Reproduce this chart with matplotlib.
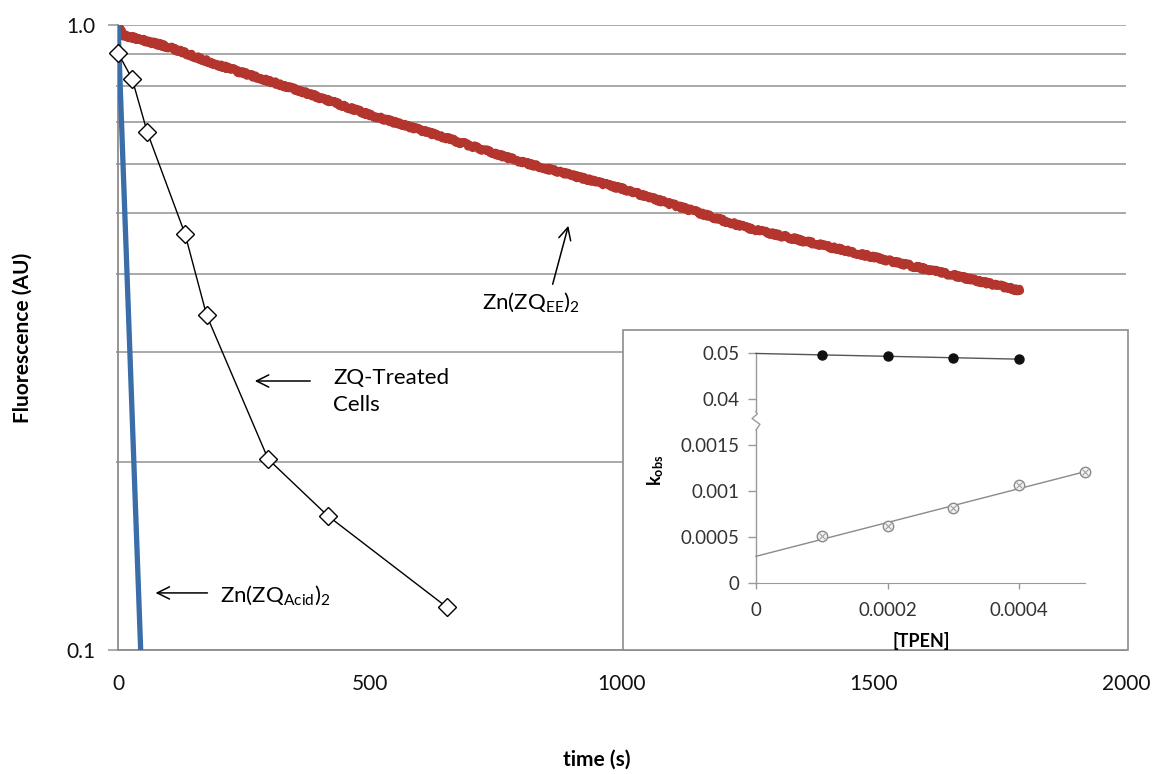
"""
Fluorescence decay of zinc complexes, log scale, with k_obs vs [TPEN] inset
"""
import numpy as np
import matplotlib
matplotlib.use('Agg')
import matplotlib.pyplot as plt
from matplotlib.patches import Rectangle
from matplotlib.ticker import FixedLocator, NullFormatter

plt.rcParams['font.family'] = ['Lato', 'DejaVu Sans']
plt.rcParams['mathtext.fontset'] = 'custom'
plt.rcParams['mathtext.rm'] = 'Lato'
plt.rcParams['mathtext.it'] = 'Lato:italic'
plt.rcParams['mathtext.bf'] = 'Lato:bold'

# --- main panel data ---
ee_time = [0, 8, 100, 200, 350, 500, 650, 800, 1000, 1250, 1550, 1790]
ee_fluor = [1.0, 0.965, 0.922, 0.862, 0.790, 0.718, 0.660, 0.604, 0.547, 0.473, 0.416, 0.376]

acid_time = [0, 12, 24, 36, 46]
acid_fluor = [1.0, 0.54, 0.293, 0.158, 0.095]

cells_time = [0, 28, 58, 133, 176, 298, 416, 653]
cells_fluor = [0.902, 0.820, 0.674, 0.463, 0.343, 0.202, 0.164, 0.117]

x_ticks = [0, 500, 1000, 1500, 2000]

# --- inset data ---
tpen_hi = [0.0001, 0.0002, 0.0003, 0.0004]
kobs_hi = [0.0495, 0.0494, 0.0490, 0.0486]
tpen_lo = [0.0001, 0.0002, 0.0003, 0.0004, 0.0005]
kobs_lo = [0.00051, 0.00062, 0.00081, 0.00106, 0.00121]

kobs_ticks = [0, 0.0005, 0.001, 0.0015, 0.04, 0.05]
kobs_labels = ['0', '0.0005', '0.001', '0.0015', '0.04', '0.05']
tpen_ticks = [0, 0.0002, 0.0004]
tpen_labels = ['0', '0.0002', '0.0004']

# broken k_obs axis: value breakpoints -> evenly spaced positions
brk_vals = np.array([0, 0.0015, 0.04, 0.05])
brk_pos = np.array([0, 3, 4, 5])


def _piecewise(v, xs, ys):
    v = np.asarray(v, dtype=float)
    out = np.interp(v, xs, ys)
    lo = ys[0] + (v - xs[0]) * (ys[1] - ys[0]) / (xs[1] - xs[0])
    hi = ys[-1] + (v - xs[-1]) * (ys[-1] - ys[-2]) / (xs[-1] - xs[-2])
    return np.where(v < xs[0], lo, np.where(v > xs[-1], hi, out))


def kobs_fwd(v):
    return _piecewise(v, brk_vals, brk_pos)


def kobs_inv(p):
    return _piecewise(p, brk_pos, brk_vals)


W, H = 1152, 774
fig = plt.figure(figsize=(W / 100, H / 100), dpi=100)

ax = fig.add_axes([118 / W, 1 - 650 / H, 1008 / W, 625 / H])
ax.set_yscale('log')
ax.set_ylim(0.1, 1.0)
ax.set_xlim(0, 2000)

grid_c = '#a3a3a3'
ax.yaxis.set_major_locator(FixedLocator([0.1, 1.0]))
ax.yaxis.set_minor_locator(FixedLocator([0.2, 0.3, 0.4, 0.5, 0.6, 0.7, 0.8, 0.9]))
ax.yaxis.set_minor_formatter(NullFormatter())
ax.set_yticklabels(['0.1', '1.0'])
ax.set_xticks(x_ticks)
ax.set_xticklabels([str(t) for t in x_ticks])
ax.grid(True, which='both', axis='y', color=grid_c, lw=1.3)
ax.set_axisbelow(True)
ax.tick_params(axis='y', which='major', length=7, width=1.3, color=grid_c,
               pad=9, labelsize=15, labelcolor='#111111')
ax.tick_params(axis='y', which='minor', length=1.5, width=1.3, color=grid_c)
ax.tick_params(axis='x', length=0, pad=17, labelsize=15, labelcolor='#111111')
for side in ('top', 'right'):
    ax.spines[side].set_visible(False)
for side in ('left', 'bottom'):
    ax.spines[side].set_color('#8c8c8c')
    ax.spines[side].set_linewidth(1.3)

# Zn(ZQ_EE)2 trace, slightly roughened like a raw fluorimeter record
ee_line, = ax.plot(ee_time, ee_fluor, color='#b4342e', lw=5.8, solid_capstyle='round', zorder=3)
ee_line.set_sketch_params(scale=1.6, length=3.0, randomness=3.0)

ax.plot(acid_time, acid_fluor, color='#3b6ea8', lw=3.8, zorder=3)

ax.plot(cells_time, cells_fluor, color='black', lw=1.0, marker='D', markersize=9.5,
        markerfacecolor='white', markeredgecolor='black', markeredgewidth=1.0, zorder=4,
        clip_on=False)

arrow = dict(arrowstyle='->', color='black', lw=1.1, mutation_scale=22)
ax.annotate('', xy=(895, 0.482), xytext=(861, 0.381), arrowprops=arrow)
ax.text(722, 0.360, r'Zn(ZQ$_{\mathrm{EE}}$)$_2$', fontsize=16, ha='left', va='center')

ax.annotate('', xy=(266, 0.2694), xytext=(387, 0.2694), arrowprops=arrow)
ax.text(427, 0.2593, 'ZQ-Treated\nCells', fontsize=16, ha='left', va='center', linespacing=1.45)

ax.annotate('', xy=(69, 0.1234), xytext=(183, 0.1234), arrowprops=arrow)
ax.text(202, 0.1225, r'Zn(ZQ$_{\mathrm{Acid}}$)$_2$', fontsize=16, ha='left', va='center')

fig.text(23 / W, 1 - 338 / H, 'Fluorescence (AU)', rotation=90, ha='center', va='center',
         fontsize=15, fontweight='bold')
fig.text(597 / W, 1 - 760 / H, 'time (s)', ha='center', va='center',
         fontsize=15, fontweight='bold')

# inset frame
fig.patches.append(Rectangle((623 / W, 1 - 650 / H), 505 / W, 320 / H,
                             transform=fig.transFigure, facecolor='white',
                             edgecolor='#8c8c8c', lw=1.2, zorder=2))

ins = fig.add_axes([756 / W, 1 - 583 / H, 329 / W, 230 / H])
ins.set_zorder(5)
ins.patch.set_alpha(0)
ins.set_yscale('function', functions=(kobs_fwd, kobs_inv))
ins.set_ylim(0, 0.05)
ins.set_xlim(0, 0.0005)
ins.set_yticks(kobs_ticks)
ins.set_yticklabels(kobs_labels)
ins.set_xticks(tpen_ticks)
ins.set_xticklabels(tpen_labels)
ins.yaxis.set_minor_locator(FixedLocator([]))
ins.tick_params(axis='y', length=6, width=1.0, color='#9a9a9a', pad=6,
                labelsize=13.5, labelcolor='#333333')
ins.tick_params(axis='x', length=4, width=1.0, color='#9a9a9a', pad=10,
                labelsize=13.5, labelcolor='#333333')
for side in ('top', 'right', 'left'):
    ins.spines[side].set_visible(False)
ins.spines['bottom'].set_color('#9a9a9a')

# left spine with a zigzag where the k_obs scale jumps
spine_kw = dict(color='#9a9a9a', lw=1.0, transform=ins.transAxes, clip_on=False)
ins.plot([0, 0], [0, 0.665], **spine_kw)
ins.plot([0, 0.012, -0.012, 0.004, 0], [0.665, 0.69, 0.715, 0.735, 0.745], **spine_kw)
ins.plot([0, 0], [0.745, 1.0], **spine_kw)

# linear trendlines through each series
fit_hi = np.polyfit(tpen_hi, kobs_hi, 1)
fit_lo = np.polyfit(tpen_lo, kobs_lo, 1)
xs_hi = np.array([0, tpen_hi[-1]])
xs_lo = np.array([0, tpen_lo[-1]])
ins.plot(xs_hi, np.polyval(fit_hi, xs_hi), color='#555555', lw=1.0, clip_on=False)
ins.plot(xs_lo, np.polyval(fit_lo, xs_lo), color='#8a8a8a', lw=1.0, clip_on=False)

ins.plot(tpen_hi, kobs_hi, 'o', color='#111111', markersize=6.5, clip_on=False)
ins.plot(tpen_lo, kobs_lo, 'o', markerfacecolor='#f2f2f2', markeredgecolor='#8a8a8a',
         markersize=7.5, markeredgewidth=1.0, clip_on=False)
ins.plot(tpen_lo, kobs_lo, 'x', color='#a0a0a0', markersize=4.5, markeredgewidth=0.8, clip_on=False)

fig.text(656 / W, 1 - 470 / H, r'k$_{\mathbf{obs}}$', rotation=90, ha='center', va='center',
         fontsize=13, fontweight='bold', zorder=6)
fig.text(921 / W, 1 - 641 / H, '[TPEN]', ha='center', va='center',
         fontsize=13, fontweight='bold', zorder=6)

fig.savefig('out.png', dpi=100, facecolor='white')
